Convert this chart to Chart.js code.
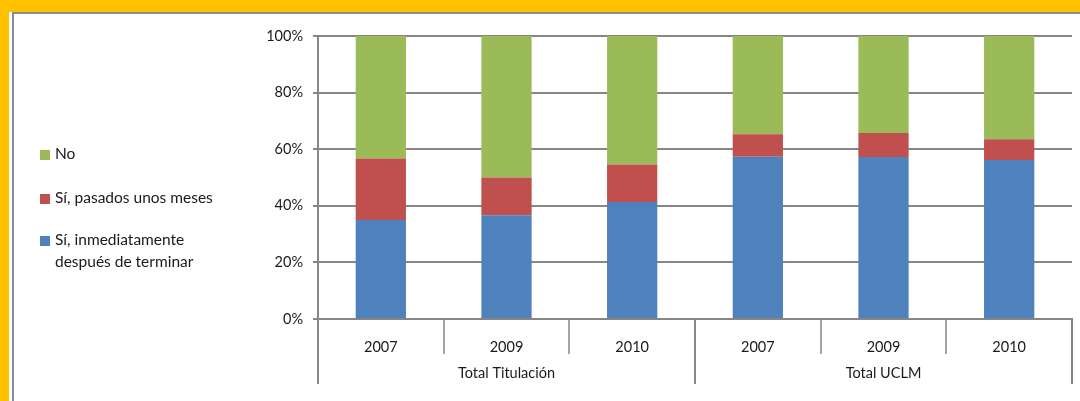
<!DOCTYPE html>
<html>
<head>
<meta charset="utf-8">
<script src="https://cdn.jsdelivr.net/npm/chart.js@4"></script>
<style>
  html, body { margin: 0; padding: 0; }
  body { width: 1080px; height: 401px; position: relative; overflow: hidden; background: #fff; font-family: Lato, "Open Sans", sans-serif; }
  .frame-top { position: absolute; left: 0; top: 0; width: 1080px; height: 12px; background: #ffc000; }
  .frame-left { position: absolute; left: 0; top: 0; width: 9px; height: 401px; background: #ffc000; }
  .line-top { position: absolute; left: 12px; top: 12px; width: 1068px; height: 2px; background: #8c8c8c; }
  .line-left { position: absolute; left: 12px; top: 12px; width: 2px; height: 389px; background: #8c8c8c; }
  #wrap { position: absolute; left: 0; top: 0; width: 1080px; height: 401px; }
  .legend { position: absolute; left: 40px; font-size: 15.5px; color: #1a1a1a; line-height: 22px; }
  .legend .sw { display: inline-block; width: 10px; height: 10px; margin-right: 5px; vertical-align: -1px; }
  .legend .second { padding-left: 15px; }
</style>
</head>
<body>
<div class="frame-top"></div>
<div class="frame-left"></div>
<div class="line-top"></div>
<div class="line-left"></div>
<div id="wrap"><canvas id="chart" width="1080" height="401"></canvas></div>
<div id="legend"></div>

<script>
const years = ["2007", "2009", "2010", "2007", "2009", "2010"];
const groups = ["Total Titulación", "Total UCLM"];
const inmediato = [35.0, 36.7, 41.3, 57.3, 57.2, 56.2];
const pasadosMeses = [21.7, 13.3, 13.3, 8.0, 8.5, 7.3];
const no = [43.3, 50.0, 45.4, 34.7, 34.3, 36.5];
const yTicks = [0, 20, 40, 60, 80, 100];

const BLUE = "#4f81bd", RED = "#c0504d", GREEN = "#9bbb59";
const AXIS = "#868686";
const TEXT = "#1a1a1a";
const FONT = "Lato, 'Open Sans', sans-serif";

// legend on the left, top to bottom like the original
const legendItems = [
  { color: GREEN, lines: ["No"], top: 142 },
  { color: RED, lines: ["Sí, pasados unos meses"], top: 186 },
  { color: BLUE, lines: ["Sí, inmediatamente", "después de terminar"], top: 228 }
];
document.getElementById("legend").innerHTML = legendItems.map(it => `
  <div class="legend" style="top:${it.top}px">
    <div><span class="sw" style="background:${it.color}"></span>${it.lines[0]}</div>
    ${it.lines[1] ? `<div class="second">${it.lines[1]}</div>` : ""}
  </div>`).join("");

// separators under the x axis and the group labels
const groupAxis = {
  id: "groupAxis",
  afterDraw(chart) {
    const { ctx, chartArea } = chart;
    const x = chart.scales.x;
    const step = (chartArea.right - chartArea.left) / years.length;
    const bottom = chartArea.bottom;
    ctx.save();
    ctx.strokeStyle = AXIS;
    for (let i = 0; i <= years.length; i++) {
      const px = Math.round(chartArea.left + i * step);
      const len = i % 3 === 0 ? 65 : 35;
      ctx.lineWidth = i % 3 === 0 ? 2 : 1.5;
      ctx.beginPath();
      ctx.moveTo(px, bottom);
      ctx.lineTo(px, bottom + len);
      ctx.stroke();
    }
    ctx.fillStyle = TEXT;
    ctx.font = "14.5px " + FONT;
    ctx.textAlign = "center";
    ctx.textBaseline = "middle";
    groups.forEach((g, gi) => {
      const cx = (x.getPixelForValue(gi * 3) + x.getPixelForValue(gi * 3 + 2)) / 2;
      ctx.fillText(g, cx, bottom + 54);
    });
    ctx.restore();
  }
};

new Chart(document.getElementById("chart"), {
  type: "bar",
  data: {
    labels: years,
    datasets: [
      { label: "Sí, inmediatamente después de terminar", data: inmediato, backgroundColor: BLUE },
      { label: "Sí, pasados unos meses", data: pasadosMeses, backgroundColor: RED },
      { label: "No", data: no, backgroundColor: GREEN }
    ]
  },
  options: {
    responsive: false,
    animation: false,
    categoryPercentage: 1,
    barPercentage: 0.4,
    layout: { padding: { top: 36, right: 8, left: 0, bottom: 0 } },
    plugins: { legend: { display: false }, tooltip: { enabled: false } },
    scales: {
      x: {
        stacked: true,
        afterFit(s) { s.height = 82; },
        grid: { display: false },
        border: { display: true, color: AXIS, width: 2 },
        ticks: { color: TEXT, font: { family: FONT, size: 14.5 }, padding: 12 }
      },
      y: {
        stacked: true,
        min: 0,
        max: 100,
        afterFit(s) { s.width = 318; },
        afterBuildTicks(s) { s.ticks = yTicks.map(v => ({ value: v })); },
        grid: { color: AXIS, lineWidth: 2, tickLength: 5 },
        border: { display: true, color: AXIS, width: 2 },
        ticks: { color: TEXT, font: { family: FONT, size: 14.5 }, padding: 10, callback: v => v + "%" }
      }
    }
  },
  plugins: [groupAxis]
});
</script>
</body>
</html>
